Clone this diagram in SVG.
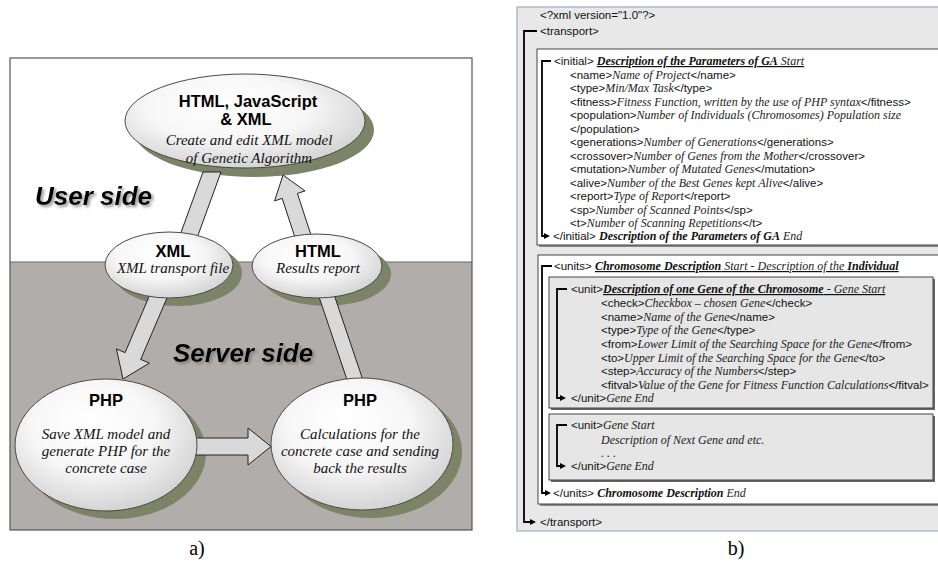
<svg xmlns="http://www.w3.org/2000/svg" width="938" height="562" viewBox="0 0 938 562">
<style>
.b{font-family:"Liberation Sans",Arial,sans-serif;font-weight:bold;font-size:16.5px;text-anchor:middle;fill:#000}
.i{font-family:"Liberation Serif","Times New Roman",serif;font-style:italic;font-size:15px;text-anchor:middle;fill:#111}
.side{font-family:"Liberation Sans",Arial,sans-serif;font-weight:bold;font-style:italic;font-size:26px;fill:#000}
.cap{font-family:"Liberation Serif","Times New Roman",serif;font-size:20px;text-anchor:middle;fill:#000}
.t{font-family:"Liberation Sans",Arial,sans-serif;font-size:11.5px;fill:#111}
.e{font-family:"Liberation Serif","Times New Roman",serif;font-style:italic;font-size:12px;fill:#222}
.eb{font-family:"Liberation Serif","Times New Roman",serif;font-style:italic;font-weight:bold;font-size:12px;fill:#111}
.u{text-decoration:underline}
.shd{fill:#7c8366}
.ell{fill:url(#eg);stroke:#4a4a4a;stroke-width:1}
.band{fill:#d9d9d9;stroke:#222;stroke-width:1}
.br{fill:none;stroke:#000;stroke-width:1.8}
.bra{fill:none;stroke:#000;stroke-width:1.8;marker-end:url(#ah)}
.box{stroke:#444;stroke-width:1}
</style>
<defs>
<radialGradient id="eg" cx="0.45" cy="0.4" r="0.62" fx="0.4" fy="0.3">
<stop offset="0" stop-color="#ffffff"/>
<stop offset="0.55" stop-color="#f7f7f7"/>
<stop offset="1" stop-color="#d2d2d2"/>
</radialGradient>
<filter id="ts" x="-10%" y="-30%" width="130%" height="170%">
<feDropShadow dx="2" dy="2" stdDeviation="1.5" flood-color="#777" flood-opacity="0.8"/>
</filter>
<marker id="ah" markerUnits="userSpaceOnUse" markerWidth="7" markerHeight="7" refX="1" refY="3.5" orient="auto">
<path d="M0,0.5 L6,3.5 L0,6.5 z" fill="#000"/>
</marker>
</defs>

<!-- Panel a -->
<g id="panel-a">
<rect x="10" y="58" width="462" height="204" fill="#ffffff"/>
<rect x="10" y="262" width="462" height="268" fill="#b1adab"/>
<line x1="10" y1="262" x2="472" y2="262" stroke="#666" stroke-width="1"/>
<rect x="10" y="58" width="462" height="472" fill="none" stroke="#555" stroke-width="1.2"/>
<text class="side" x="35" y="205" filter="url(#ts)">User side</text>
<text class="side" x="173" y="362" filter="url(#ts)">Server side</text>
</g>

<g id="shadows">
<ellipse class="shd" cx="254" cy="130" rx="120" ry="47"/>
<ellipse class="shd" cx="178" cy="273" rx="64" ry="33"/>
<ellipse class="shd" cx="326" cy="274" rx="65" ry="32"/>
<ellipse class="shd" cx="115" cy="453" rx="91" ry="66"/>
<ellipse class="shd" cx="371" cy="452" rx="91" ry="66"/>
</g>

<g id="connectors">
<polygon class="band" points="203,172 221,172 197,238 179,238"/>
<polygon class="band" points="154.2,284.6 125.1,352.6 116.4,348.9 123,379 149.4,363.1 140.7,359.4 169.8,291.4"/>
<polygon class="band" points="295.9,240.3 282.2,198.4 274.6,200.9 283,175 305,190.9 297.4,193.4 311.1,235.3"/>
<polygon class="band" points="317.5,292.4 331.7,287.6 363.1,380.6 348.9,385.4"/>
<polygon class="band" points="190,438 248,438 248,428 271,446.5 248,465 248,455 190,455"/>
</g>

<g id="node-client">
<ellipse class="ell" cx="245" cy="121" rx="120" ry="47"/>
<text class="b" x="248" y="107">HTML, JavaScript</text>
<text class="b" x="246" y="125">&amp; XML</text>
<text class="i" x="249" y="145">Create and edit XML model</text>
<text class="i" x="249" y="163">of Genetic Algorithm</text>
</g>

<g id="node-xml">
<ellipse class="ell" cx="169" cy="265" rx="64" ry="33"/>
<text class="b" x="173" y="257">XML</text>
<text class="i" x="173" y="273">XML transport file</text>
</g>

<g id="node-html">
<ellipse class="ell" cx="317" cy="266" rx="65" ry="32"/>
<text class="b" x="318" y="257">HTML</text>
<text class="i" x="318" y="273">Results report</text>
</g>

<g id="node-php-save">
<ellipse class="ell" cx="106" cy="445" rx="91" ry="66"/>
<text class="b" x="106" y="406">PHP</text>
<text class="i" x="106" y="439">Save XML model and</text>
<text class="i" x="106" y="456">generate PHP for the</text>
<text class="i" x="106" y="473">concrete case</text>
</g>

<g id="node-php-calc">
<ellipse class="ell" cx="362" cy="444" rx="91" ry="66"/>
<text class="b" x="360" y="406">PHP</text>
<text class="i" x="360" y="439">Calculations for the</text>
<text class="i" x="360" y="456">concrete case and sending</text>
<text class="i" x="360" y="473">back the results</text>
</g>

<text class="cap" x="197" y="555">a)</text>

<!-- Panel b -->
<g id="panel-b">
<rect x="517" y="7" width="430" height="524" fill="#e8e8e8" stroke="#98adc4" stroke-width="1.2"/>
<text class="t" x="540" y="19">&lt;?xml version="1.0"?&gt;</text>
<text class="t" x="540" y="35">&lt;transport&gt;</text>
<path class="bra" d="M537,31 H524 V522 H531"/>
<text class="t" x="540" y="526">&lt;/transport&gt;</text>
</g>

<g id="box-initial">
<rect x="539" y="51" width="410" height="196" fill="#888"/>
<rect class="box" x="537" y="49" width="410" height="196" fill="#ffffff"/>
<path class="bra" d="M551,61 H542 V236 H545"/>
<text class="t" x="554" y="65">&lt;initial&gt; <tspan class="u"><tspan class="eb">Description of the Parameters of GA</tspan><tspan class="e"> Start</tspan></tspan></text>
<text class="t" x="570" y="78.5">&lt;name&gt;<tspan class="e">Name of Project</tspan>&lt;/name&gt;</text>
<text class="t" x="570" y="92">&lt;type&gt;<tspan class="e">Min/Max Task</tspan>&lt;/type&gt;</text>
<text class="t" x="570" y="105.5">&lt;fitness&gt;<tspan class="e">Fitness Function, written by the use of PHP syntax</tspan>&lt;/fitness&gt;</text>
<text class="t" x="570" y="119">&lt;population&gt;<tspan class="e">Number of Individuals (Chromosomes) Population size</tspan></text>
<text class="t" x="570" y="132.5">&lt;/population&gt;</text>
<text class="t" x="570" y="146">&lt;generations&gt;<tspan class="e">Number of Generations</tspan>&lt;/generations&gt;</text>
<text class="t" x="570" y="159.5">&lt;crossover&gt;<tspan class="e">Number of Genes from the Mother</tspan>&lt;/crossover&gt;</text>
<text class="t" x="570" y="173">&lt;mutation&gt;<tspan class="e">Number of Mutated Genes</tspan>&lt;/mutation&gt;</text>
<text class="t" x="570" y="186.5">&lt;alive&gt;<tspan class="e">Number of the Best Genes kept Alive</tspan>&lt;/alive&gt;</text>
<text class="t" x="570" y="200">&lt;report&gt;<tspan class="e">Type of Report</tspan>&lt;/report&gt;</text>
<text class="t" x="570" y="213.5">&lt;sp&gt;<tspan class="e">Number of Scanned Points</tspan>&lt;/sp&gt;</text>
<text class="t" x="570" y="227">&lt;t&gt;<tspan class="e">Number of Scanning Repetitions</tspan>&lt;/t&gt;</text>
<text class="t" x="553" y="240">&lt;/initial&gt; <tspan class="eb">Description of the Parameters of GA</tspan><tspan class="e"> End</tspan></text>
</g>

<g id="box-units">
<rect x="540" y="257" width="410" height="249" fill="#888"/>
<rect class="box" x="538" y="255" width="410" height="249" fill="#ffffff"/>
<path class="bra" d="M552,266 H542 V493 H546"/>
<text class="t" x="554" y="270">&lt;units&gt; <tspan class="u"><tspan class="eb">Chromosome Description</tspan><tspan class="e"> Start - Description of the </tspan><tspan class="eb">Individual</tspan></tspan></text>
<text class="t" x="553" y="497">&lt;/units&gt; <tspan class="eb">Chromosome Description</tspan><tspan class="e"> End</tspan></text>
</g>

<g id="box-unit-1">
<rect x="551" y="279" width="384" height="131" fill="#666"/>
<rect class="box" x="549" y="277" width="384" height="131" fill="#e6e6e6"/>
<path class="bra" d="M567,289 H557 V398 H561"/>
<text class="t" x="571" y="293">&lt;unit&gt;<tspan class="u"><tspan class="eb">Description of one Gene of the Chromosome</tspan><tspan class="e"> - Gene Start</tspan></tspan></text>
<text class="t" x="601" y="307">&lt;check&gt;<tspan class="e">Checkbox – chosen Gene</tspan>&lt;/check&gt;</text>
<text class="t" x="601" y="320.5">&lt;name&gt;<tspan class="e">Name of the Gene</tspan>&lt;/name&gt;</text>
<text class="t" x="601" y="334">&lt;type&gt;<tspan class="e">Type of the Gene</tspan>&lt;/type&gt;</text>
<text class="t" x="601" y="347.5">&lt;from&gt;<tspan class="e">Lower Limit of the Searching Space for the Gene</tspan>&lt;/from&gt;</text>
<text class="t" x="601" y="361.5">&lt;to&gt;<tspan class="e">Upper Limit of the Searching Space for the Gene</tspan>&lt;/to&gt;</text>
<text class="t" x="601" y="375">&lt;step&gt;<tspan class="e">Accuracy of the Numbers</tspan>&lt;/step&gt;</text>
<text class="t" x="601" y="388.5">&lt;fitval&gt;<tspan class="e">Value of the Gene for Fitness Function Calculations</tspan>&lt;/fitval&gt;</text>
<text class="t" x="571" y="402">&lt;/unit&gt;<tspan class="e">Gene End</tspan></text>
</g>

<g id="box-unit-2">
<rect x="551" y="416" width="384" height="66" fill="#666"/>
<rect class="box" x="549" y="414" width="384" height="66" fill="#e6e6e6"/>
<path class="bra" d="M567,425 H557 V466 H561"/>
<text class="t" x="571" y="429">&lt;unit&gt;<tspan class="e">Gene Start</tspan></text>
<text class="e" x="601" y="444">Description of Next Gene and etc.</text>
<text class="e" x="601" y="457">. . .</text>
<text class="t" x="571" y="470">&lt;/unit&gt;<tspan class="e">Gene End</tspan></text>
</g>

<text class="cap" x="736" y="555">b)</text>
</svg>
